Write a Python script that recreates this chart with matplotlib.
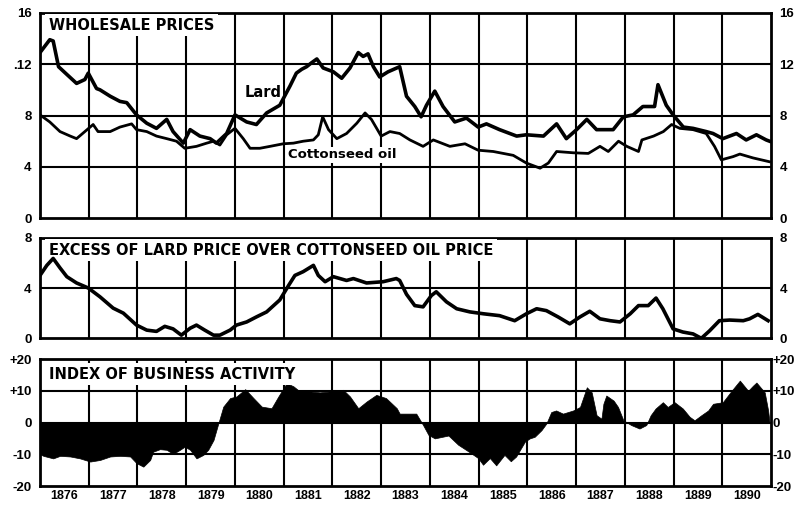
import matplotlib.pyplot as plt

# ---- data (time in fractional years) ----
lard_t = [1876.0, 1876.2, 1876.27, 1876.38, 1876.55, 1876.75, 1876.92, 1876.99, 1877.16, 1877.23,
          1877.44, 1877.64, 1877.78, 1877.98, 1878.19, 1878.39, 1878.6, 1878.73, 1878.94, 1879.08,
          1879.28, 1879.49, 1879.62, 1879.83, 1880.0, 1880.24, 1880.44, 1880.65, 1880.92, 1881.13,
          1881.26, 1881.37, 1881.47, 1881.57, 1881.68, 1881.81, 1882.02, 1882.19, 1882.36, 1882.53,
          1882.63, 1882.73, 1882.84, 1882.97, 1883.14, 1883.38, 1883.52, 1883.69, 1883.82, 1883.93,
          1884.1, 1884.27, 1884.51, 1884.75, 1884.99, 1885.16, 1885.43, 1885.78, 1885.98, 1886.33,
          1886.6, 1886.8, 1887.01, 1887.22, 1887.42, 1887.76, 1887.97, 1888.17, 1888.37, 1888.61,
          1888.68, 1888.85, 1888.99, 1889.2, 1889.4, 1889.67, 1889.81, 1890.01, 1890.29, 1890.49,
          1890.7, 1890.9, 1890.97]
lard_v = [12.9, 13.9, 13.8, 11.8, 11.2, 10.5, 10.8, 11.3, 10.1, 10.0,
          9.5, 9.1, 9.0, 8.05, 7.4, 7.0, 7.7, 6.75, 5.85, 6.9,
          6.4, 6.2, 5.85, 6.6, 8.05, 7.5, 7.3, 8.2, 8.8, 10.3,
          11.3, 11.6, 11.8, 12.1, 12.4, 11.7, 11.4, 10.9, 11.7, 12.9,
          12.6, 12.8, 11.8, 11.0, 11.4, 11.8, 9.5, 8.7, 7.9, 8.8,
          9.9, 8.7, 7.5, 7.8, 7.1, 7.35, 6.9, 6.4, 6.5, 6.4,
          7.35, 6.2, 6.9, 7.7, 6.9, 6.9, 7.9, 8.05, 8.7, 8.7,
          10.4, 8.8, 8.05, 7.1, 7.0, 6.75, 6.6, 6.2, 6.6, 6.1,
          6.5, 6.1, 6.0]

cotton_t = [1876.0, 1876.2, 1876.41, 1876.62, 1876.75, 1876.92, 1877.09, 1877.19, 1877.44, 1877.64,
            1877.88, 1877.98, 1878.19, 1878.39, 1878.6, 1878.8, 1878.97, 1879.21, 1879.42, 1879.56,
            1879.69, 1879.83, 1880.0, 1880.17, 1880.31, 1880.51, 1880.72, 1880.99, 1881.2, 1881.4,
            1881.61, 1881.71, 1881.8, 1881.92, 1882.09, 1882.29, 1882.5, 1882.67, 1882.8, 1883.0,
            1883.18, 1883.38, 1883.59, 1883.86, 1884.07, 1884.41, 1884.72, 1884.99, 1885.3, 1885.71,
            1885.98, 1886.26, 1886.43, 1886.6, 1886.94, 1887.25, 1887.49, 1887.66, 1887.87, 1888.04,
            1888.28, 1888.35, 1888.59, 1888.79, 1888.96, 1889.13, 1889.4, 1889.67, 1889.84, 1889.98,
            1890.22, 1890.36, 1890.63, 1890.97]
cotton_v = [8.05, 7.5, 6.75, 6.4, 6.2, 6.75, 7.3, 6.75, 6.75, 7.1,
            7.35, 6.9, 6.75, 6.4, 6.2, 6.0, 5.45, 5.6, 5.85, 6.0,
            5.7, 6.5, 7.0, 6.2, 5.45, 5.45, 5.6, 5.8, 5.85, 6.0,
            6.1, 6.5, 7.9, 6.9, 6.2, 6.6, 7.4, 8.2, 7.7, 6.4,
            6.75, 6.6, 6.1, 5.6, 6.1, 5.6, 5.8, 5.3, 5.2, 4.9,
            4.3, 3.9, 4.3, 5.2, 5.1, 5.05, 5.6, 5.2, 6.0, 5.6,
            5.2, 6.1, 6.4, 6.75, 7.3, 7.0, 6.9, 6.6, 5.6, 4.55,
            4.8, 5.0, 4.7, 4.4]

excess_t = [1876.0, 1876.14, 1876.27, 1876.41, 1876.55, 1876.75, 1876.99, 1877.23, 1877.5, 1877.71,
            1877.98, 1878.19, 1878.39, 1878.56, 1878.73, 1878.9, 1879.08, 1879.21, 1879.38, 1879.56,
            1879.69, 1879.9, 1880.03, 1880.24, 1880.44, 1880.65, 1880.92, 1881.1, 1881.23, 1881.4,
            1881.61, 1881.71, 1881.85, 1882.02, 1882.29, 1882.43, 1882.7, 1883.04, 1883.31, 1883.38,
            1883.52, 1883.69, 1883.86, 1884.03, 1884.13, 1884.34, 1884.55, 1884.82, 1885.1, 1885.43,
            1885.74, 1885.98, 1886.19, 1886.39, 1886.63, 1886.87, 1887.08, 1887.28, 1887.49, 1887.7,
            1887.9, 1888.11, 1888.28, 1888.48, 1888.64, 1888.78, 1888.99, 1889.19, 1889.4, 1889.57,
            1889.74, 1889.94, 1890.15, 1890.43, 1890.56, 1890.73, 1890.94]
excess_v = [5.0, 5.8, 6.35, 5.6, 4.9, 4.4, 4.0, 3.3, 2.4, 2.0,
            1.05, 0.65, 0.55, 0.95, 0.75, 0.25, 0.8, 1.05, 0.65, 0.25,
            0.25, 0.65, 1.05, 1.3, 1.7, 2.1, 3.05, 4.2, 5.0, 5.3,
            5.8, 5.0, 4.5, 4.9, 4.6, 4.75, 4.4, 4.5, 4.75, 4.6,
            3.5, 2.6, 2.5, 3.4, 3.7, 2.9, 2.35, 2.1, 1.95, 1.8,
            1.4, 1.95, 2.35, 2.2, 1.7, 1.15, 1.7, 2.15, 1.55, 1.4,
            1.3, 1.95, 2.6, 2.6, 3.2, 2.35, 0.75, 0.5, 0.35, 0.0,
            0.6, 1.4, 1.45, 1.4, 1.55, 1.9, 1.4]

busi_t = [1876.0, 1876.07, 1876.27, 1876.41, 1876.62, 1876.82, 1877.03, 1877.23, 1877.44, 1877.64,
          1877.85, 1877.98, 1878.12, 1878.26, 1878.32, 1878.46, 1878.6, 1878.73, 1878.87, 1878.97,
          1879.08, 1879.21, 1879.35, 1879.45, 1879.56, 1879.66, 1879.76, 1879.9, 1880.03, 1880.21,
          1880.38, 1880.55, 1880.75, 1880.89, 1881.06, 1881.2, 1881.33, 1881.54, 1881.74, 1881.95,
          1882.22, 1882.36, 1882.53, 1882.7, 1882.9, 1883.1, 1883.32, 1883.38, 1883.72, 1883.86,
          1883.97, 1884.1, 1884.38, 1884.58, 1884.79, 1884.99, 1885.09, 1885.23, 1885.36, 1885.53,
          1885.66, 1885.77, 1885.95, 1886.05, 1886.15, 1886.29, 1886.39, 1886.49, 1886.59, 1886.73,
          1886.94, 1887.08, 1887.22, 1887.32, 1887.42, 1887.52, 1887.56, 1887.62, 1887.77, 1887.86,
          1887.97, 1888.13, 1888.3, 1888.44, 1888.53, 1888.63, 1888.78, 1888.88, 1889.02, 1889.19,
          1889.33, 1889.43, 1889.57, 1889.71, 1889.81, 1890.01, 1890.19, 1890.36, 1890.53, 1890.63,
          1890.7, 1890.87, 1890.94, 1890.97]
busi_v = [-10.0, -10.5, -11.3, -10.5, -10.7, -11.3, -12.3, -11.8, -10.7, -10.5,
          -10.7, -12.8, -13.9, -11.8, -9.2, -8.4, -8.6, -9.9, -8.6, -7.6,
          -8.6, -11.3, -10.2, -8.6, -5.5, -0.2, 5.0, 7.7, 8.2, 10.5,
          7.7, 5.0, 4.5, 8.2, 12.4, 11.4, 9.8, 9.8, 9.5, 9.8,
          10.3, 8.2, 4.5, 6.6, 8.7, 7.7, 4.5, 2.8, 2.8, -0.8,
          -3.9, -5.0, -4.1, -7.0, -9.1, -11.2, -13.3, -11.2, -13.5, -10.2,
          -12.2, -10.7, -6.0, -5.0, -4.5, -2.4, -0.3, 3.3, 3.8, 2.8,
          3.8, 4.9, 11.1, 9.5, 2.3, 1.2, 5.9, 8.5, 6.9, 4.9,
          0.7, -0.8, -1.9, -0.8, 2.3, 4.4, 6.4, 4.9, 6.4, 4.4,
          1.8, 0.7, 2.3, 3.8, 5.9, 6.4, 10.0, 13.2, 10.0, 11.6,
          12.6, 9.5, 3.8, 0.0]

years = list(range(1876, 1891))
year_labels = [str(y) for y in years]

top_ticks = [0, 4, 8, 12, 16]
top_left_labels = ['0', '4', '8', '.12', '16']
top_right_labels = ['0', '4', '8', '12', '16']
mid_ticks = [0, 4, 8]
mid_labels = ['0', '4', '8']
bot_ticks = [-20, -10, 0, 10, 20]
bot_labels = ['-20', '-10', '0', '+10', '+20']

TICK_FONT = dict(family='Liberation Sans', weight='bold', size=9.5)
TITLE_FONT = dict(family='DejaVu Sans', weight='bold', size=10.5)


def style_panel(ax, ticks, left_labels, right_labels, ylim, grid_vals, title, title_y):
    ax.set_xlim(1876, 1891)
    ax.set_ylim(*ylim)
    for s in ax.spines.values():
        s.set_linewidth(2)
        s.set_color('black')
    for yr in range(1877, 1891):
        ax.axvline(yr, color='black', lw=1.5, zorder=1)
    for g in grid_vals:
        ax.axhline(g, color='black', lw=1.5, zorder=1)
    ax.set_xticks([])
    ax.set_yticks(ticks)
    ax.set_yticklabels(left_labels, fontdict=TICK_FONT)
    ax.tick_params(axis='y', length=0, pad=6)
    tw = ax.twinx()
    tw.set_ylim(*ylim)
    tw.set_yticks(ticks)
    tw.set_yticklabels(right_labels, fontdict=TICK_FONT)
    tw.tick_params(axis='y', length=0, pad=6)
    for s in tw.spines.values():
        s.set_visible(False)
    ax.text(0.012, title_y, title, transform=ax.transAxes, va='top', ha='left',
            fontdict=TITLE_FONT, zorder=4,
            bbox=dict(facecolor='white', edgecolor='none', pad=2.5))
    return tw


fig = plt.figure(figsize=(8.02, 5.05), dpi=100)
ax1 = fig.add_axes([0.0499, 0.5677, 0.9115, 0.4071])
ax2 = fig.add_axes([0.0499, 0.3301, 0.9115, 0.1992])
ax3 = fig.add_axes([0.0499, 0.0376, 0.9115, 0.2515])

# wholesale prices
style_panel(ax1, top_ticks, top_left_labels, top_right_labels, (0, 16), [4, 8, 12],
            'WHOLESALE PRICES', 0.975)
ax1.plot(lard_t, lard_v, color='black', lw=2.6, solid_joinstyle='round', zorder=5)
ax1.plot(cotton_t, cotton_v, color='black', lw=2.0, solid_joinstyle='round', zorder=5)
ax1.text(1880.57, 9.77, 'Lard', ha='center', va='center', fontdict=TITLE_FONT, zorder=4,
         bbox=dict(facecolor='white', edgecolor='none', pad=1))
ax1.text(1882.2, 4.93, 'Cottonseed oil', ha='center', va='center', zorder=4,
         fontdict=dict(family='DejaVu Sans', weight='bold', size=9.5),
         bbox=dict(facecolor='white', edgecolor='none', pad=1))

# excess of lard over cottonseed oil
style_panel(ax2, mid_ticks, mid_labels, mid_labels, (0, 8), [4],
            'EXCESS OF LARD PRICE OVER COTTONSEED OIL PRICE', 0.95)
ax2.plot(excess_t, excess_v, color='black', lw=2.6, solid_joinstyle='round', zorder=5)

# index of business activity
tw3 = style_panel(ax3, bot_ticks, bot_labels, bot_labels, (-20, 20), [-10, 0, 10],
                  'INDEX OF BUSINESS ACTIVITY', 0.94)
tw3.tick_params(axis='y', pad=1)
ax3.fill_between(busi_t, 0, busi_v, color='black', lw=0.5, zorder=3)
for i, lab in enumerate(year_labels):
    ax3.text(years[i] + 0.5, -21.2, lab, ha='center', va='top', fontdict=dict(
        family='Liberation Sans', weight='bold', size=9))

fig.savefig('out.png', dpi=100)
